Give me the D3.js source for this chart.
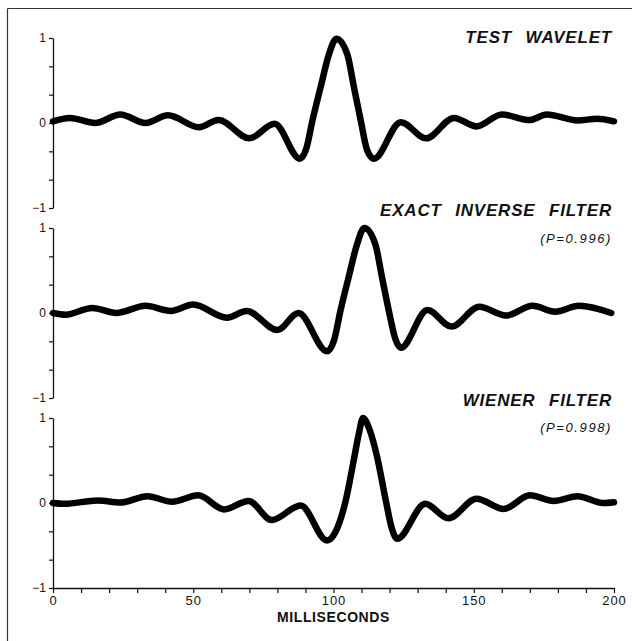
<!DOCTYPE html>
<html>
<head>
<meta charset="utf-8">
<script src="https://cdn.jsdelivr.net/npm/d3@7"></script>
<style>
  body { margin: 0; background: #fff; }
  svg { display: block; }
  text { font-family: "Liberation Sans", Arial, Helvetica, sans-serif; fill: #111; }
</style>
</head>
<body>
<script>
var width = 632;
var height = 641;

// panel titles
var titles = ["TEST WAVELET", "EXACT INVERSE FILTER", "WIENER FILTER"];
var subtitles = ["", "(P=0.996)", "(P=0.998)"];

// test wavelet (ms, amplitude)
var waveletTimes = [0, 6, 15, 24, 33, 41, 52, 59, 70, 79, 88, 90.3, 92.5, 95.4, 98.4, 101, 104.9, 107.3, 109.7, 112, 114.4, 124, 133, 143, 151, 160, 170, 176, 187, 194, 200];
var waveletValues = [0.02, 0.06, 0.0, 0.1, 0.0, 0.09, -0.05, 0.035, -0.18, -0.01, -0.42, -0.3, 0.03, 0.42, 0.81, 0.99, 0.81, 0.42, 0.03, -0.32, -0.42, 0.01, -0.18, 0.06, -0.04, 0.1, 0.035, 0.1, 0.03, 0.05, 0.02];

// exact inverse filter output
var inverseTimes = [0, 4.5, 14, 22.5, 33, 42, 50, 62, 69, 80, 87.5, 97.7, 100.2, 102.5, 105.4, 108.4, 111, 114.9, 117.3, 119.7, 122, 124, 133.5, 142, 152, 161.5, 171, 179, 187.5, 199];
var inverseValues = [0.0, -0.02, 0.06, 0.0, 0.085, 0.025, 0.1, -0.055, 0.025, -0.2, 0.0, -0.45, -0.32, 0.03, 0.42, 0.81, 1.0, 0.81, 0.42, 0.03, -0.3, -0.41, 0.035, -0.16, 0.075, -0.03, 0.085, 0.015, 0.085, 0.0];

// wiener filter output
var wienerTimes = [0, 4, 16, 24, 33.7, 42.5, 51.8, 61, 69.7, 78, 88.3, 97.7, 100.7, 104.3, 107.2, 109, 110.5, 113, 115.5, 118.7, 120.8, 122.7, 132.7, 141, 151, 160.7, 170, 178.5, 187, 196, 200];
var wienerValues = [0.0, -0.01, 0.03, 0.005, 0.08, 0.015, 0.09, -0.075, 0.025, -0.2, -0.03, -0.44, -0.34, 0.02, 0.5, 0.81, 1.0, 0.85, 0.55, 0.02, -0.3, -0.42, -0.01, -0.18, 0.05, -0.07, 0.09, 0.025, 0.08, 0.0, 0.01];

// axis ticks
var xTicks = [0, 10, 20, 30, 40, 50, 60, 70, 80, 90, 100, 110, 120, 130, 140, 150, 160, 170, 180, 190, 200];
var xLabels = [0, 50, 100, 150, 200];
var yTicks = [-1, -2/3, -1/3, 0, 1/3, 2/3, 1];
var yLabels = [-1, 0, 1];

var series = [
  { t: waveletTimes, v: waveletValues },
  { t: inverseTimes, v: inverseValues },
  { t: wienerTimes, v: wienerValues }
];

// layout
var axisLeft = 53;
var axisRight = 614;
var panelTops = [38, 228, 418];
var panelHeight = 170;
var titleY = [43, 216, 406];
var subtitleY = [0, 243, 432];

var svg = d3.select("body").append("svg")
  .attr("width", width)
  .attr("height", height);

svg.append("rect").attr("width", width).attr("height", height).attr("fill", "#fff");

// frame lines (top and left)
svg.append("line")
  .attr("x1", 7.5).attr("x2", width).attr("y1", 8.5).attr("y2", 8.5)
  .attr("stroke", "#333").attr("stroke-width", 1.2);
svg.append("line")
  .attr("x1", 7.5).attr("x2", 7.5).attr("y1", 8.5).attr("y2", height)
  .attr("stroke", "#333").attr("stroke-width", 1.2);

var xScale = d3.scaleLinear().domain([0, 200]).range([axisLeft, axisRight]);

series.forEach(function(s, i) {
  var top = panelTops[i];
  var yScale = d3.scaleLinear().domain([-1, 1]).range([top + panelHeight, top]);

  var yAxis = d3.axisLeft(yScale)
    .tickValues(yTicks)
    .tickSize(4)
    .tickSizeOuter(0)
    .tickPadding(3)
    .tickFormat(function(d) {
      var r = Math.round(d * 1000) / 1000;
      return yLabels.indexOf(r) >= 0 ? (r < 0 ? "\u2212" + Math.abs(r) : r) : "";
    });

  var gy = svg.append("g")
    .attr("transform", "translate(" + axisLeft + ",0)")
    .call(yAxis);
  gy.select(".domain").attr("stroke", "#111").attr("stroke-width", 1.3);
  gy.selectAll(".tick line").attr("stroke", "#111").attr("stroke-width", 1.2);
  gy.selectAll("text")
    .style("font-family", "'Liberation Sans', Arial, sans-serif")
    .style("font-size", "12px")
    .attr("fill", "#111");

  var line = d3.line()
    .x(function(d, j) { return xScale(s.t[j]); })
    .y(function(d) { return yScale(d); })
    .curve(d3.curveMonotoneX);

  svg.append("path")
    .attr("d", line(s.v))
    .attr("fill", "none")
    .attr("stroke", "#000")
    .attr("stroke-width", 6.5)
    .attr("stroke-linecap", "round")
    .attr("stroke-linejoin", "round");

  svg.append("text")
    .attr("x", 612)
    .attr("y", titleY[i])
    .attr("text-anchor", "end")
    .style("font-size", "17px")
    .style("font-weight", "bold")
    .style("font-style", "italic")
    .style("letter-spacing", "0.8px")
    .style("word-spacing", "8px")
    .text(titles[i]);

  if (subtitles[i]) {
    svg.append("text")
      .attr("x", 612)
      .attr("y", subtitleY[i])
      .attr("text-anchor", "end")
      .style("font-size", "13px")
      .style("font-style", "italic")
      .style("letter-spacing", "1.6px")
      .text(subtitles[i]);
  }

  // x axis only on the bottom panel
  if (i === series.length - 1) {
    var xAxis = d3.axisBottom(xScale)
      .tickValues(xTicks)
      .tickSize(5)
      .tickSizeOuter(0)
      .tickPadding(3)
      .tickFormat(function(d) { return xLabels.indexOf(d) >= 0 ? d : ""; });
    var gx = svg.append("g")
      .attr("transform", "translate(0," + (top + panelHeight) + ")")
      .call(xAxis);
    gx.select(".domain").attr("stroke", "#111").attr("stroke-width", 1.3);
    gx.selectAll(".tick line").attr("stroke", "#111").attr("stroke-width", 1.2);
    gx.selectAll("text")
      .style("font-family", "'Liberation Sans', Arial, sans-serif")
      .style("font-size", "13px")
      .style("letter-spacing", "1px")
      .attr("fill", "#111");

    svg.append("text")
      .attr("x", xScale(100))
      .attr("y", 622)
      .attr("text-anchor", "middle")
      .style("font-size", "14px")
      .style("font-weight", "bold")
      .style("letter-spacing", "0.6px")
      .text("MILLISECONDS");
  }
});
</script>
</body>
</html>
